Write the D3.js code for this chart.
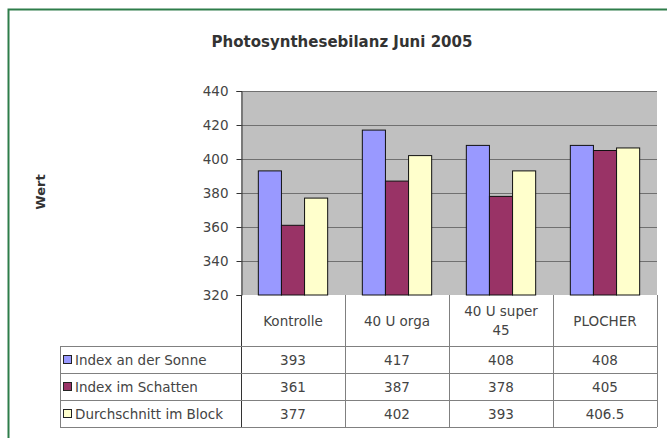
<!DOCTYPE html>
<html><head><meta charset="utf-8">
<script src="https://cdn.jsdelivr.net/npm/d3@7"></script>
<style>body{margin:0;background:#fff}svg{display:block}</style>
</head><body>
<script>
const categories = [["Kontrolle"], ["40 U orga"], ["40 U super", "45"], ["PLOCHER"]];
const seriesNames = ["Index an der Sonne", "Index im Schatten", "Durchschnitt im Block"];
const sonne = [393, 417, 408, 408];
const schatten = [361, 387, 378, 405];
const durchschnitt = [377, 402, 393, 406.5];
const yTicks = [320, 340, 360, 380, 400, 420, 440];
const colors = ["#9999ff", "#993366", "#ffffcc"];
const series = [sonne, schatten, durchschnitt];

const W = 667, H = 438;
const font = "'DejaVu Sans', Verdana, sans-serif";
const fs = 13.5;
const svg = d3.select("body").append("svg").attr("width", W).attr("height", H);

svg.append("rect").attr("x", 0).attr("y", 0).attr("width", W).attr("height", H).attr("fill", "#fff");
svg.append("path").attr("d", `M8.5,${H}V9.5H${W}`).attr("fill", "none").attr("stroke", "#2e7d4a").attr("stroke-width", 2);

const L = 241, R = 657, T = 91, B = 295;
const x = d3.scaleBand().domain(d3.range(categories.length)).range([L, R]).paddingInner(0).paddingOuter(0);
const y = d3.scaleLinear().domain([320, 440]).range([B, T]);
const bw = x.bandwidth() / 4.5;

svg.append("text").attr("x", 342).attr("y", 47).attr("text-anchor", "middle")
  .attr("font-family", font).attr("font-size", 15).attr("font-weight", "bold").attr("fill", "#333")
  .text("Photosynthesebilanz Juni 2005");

svg.append("text").attr("transform", `translate(45,192) rotate(-90)`).attr("text-anchor", "middle")
  .attr("font-family", font).attr("font-size", 13).attr("font-weight", "bold").attr("fill", "#333")
  .text("Wert");

svg.append("rect").attr("x", L).attr("y", T).attr("width", R - L).attr("height", B - T).attr("fill", "#c0c0c0");
svg.append("g").selectAll("line").data(yTicks.slice(1)).join("line")
  .attr("x1", L).attr("x2", R).attr("y1", d => Math.round(y(d)) + 0.5).attr("y2", d => Math.round(y(d)) + 0.5)
  .attr("stroke", "#707070").attr("stroke-width", 1);

series.forEach((vals, si) => {
  svg.append("g").selectAll("rect").data(vals).join("rect")
    .attr("x", (d, i) => x(i) + bw * 0.75 + si * bw)
    .attr("y", d => y(d))
    .attr("width", bw).attr("height", d => B - y(d))
    .attr("fill", colors[si]).attr("stroke", "#111").attr("stroke-width", 1);
});

const yAxis = d3.axisLeft(y).tickValues(yTicks).tickSize(5).tickPadding(8);
const ga = svg.append("g").attr("transform", `translate(${L + 0.5},0)`).call(yAxis);
ga.select(".domain").attr("stroke", "#333");
ga.selectAll(".tick line").attr("stroke", "#333");
ga.selectAll("text").attr("font-family", font).attr("font-size", fs).attr("fill", "#444");

const rowTop = 346, rowH = 27, TL = 60;
const tg = svg.append("g");
const lineC = "#808080";
tg.append("line").attr("x1", L + 0.5).attr("x2", L + 0.5).attr("y1", B).attr("y2", rowTop + 3 * rowH).attr("stroke", "#333");
d3.range(1, categories.length + 1).forEach(i => {
  const xx = i < categories.length ? x(i) : R;
  tg.append("line").attr("x1", Math.round(xx) + 0.5).attr("x2", Math.round(xx) + 0.5).attr("y1", B).attr("y2", rowTop + 3 * rowH).attr("stroke", lineC);
});
d3.range(4).forEach(r => {
  tg.append("line").attr("x1", TL).attr("x2", R).attr("y1", rowTop + r * rowH + 0.5).attr("y2", rowTop + r * rowH + 0.5).attr("stroke", lineC);
});
tg.append("line").attr("x1", TL + 0.5).attr("x2", TL + 0.5).attr("y1", rowTop).attr("y2", rowTop + 3 * rowH).attr("stroke", lineC);

categories.forEach((lines, i) => {
  const cx = x(i) + x.bandwidth() / 2;
  const cy = (B + rowTop) / 2;
  const t = tg.append("text").attr("text-anchor", "middle").attr("font-family", font).attr("font-size", fs).attr("fill", "#444");
  lines.forEach((s, k) => {
    t.append("tspan").attr("x", cx).attr("y", cy + 5 + (k - (lines.length - 1) / 2) * 19).text(s);
  });
});

series.forEach((vals, si) => {
  const ry = rowTop + si * rowH;
  tg.append("rect").attr("x", TL + 3.5).attr("y", ry + 9.5).attr("width", 8).attr("height", 8)
    .attr("fill", colors[si]).attr("stroke", "#222");
  tg.append("text").attr("x", TL + 15).attr("y", ry + 18.5).attr("font-family", font).attr("font-size", fs).attr("fill", "#444").text(seriesNames[si]);
  vals.forEach((v, i) => {
    tg.append("text").attr("x", x(i) + x.bandwidth() / 2).attr("y", ry + 18.5).attr("text-anchor", "middle")
      .attr("font-family", font).attr("font-size", fs).attr("fill", "#444").text(String(v));
  });
});
</script>
</body></html>
